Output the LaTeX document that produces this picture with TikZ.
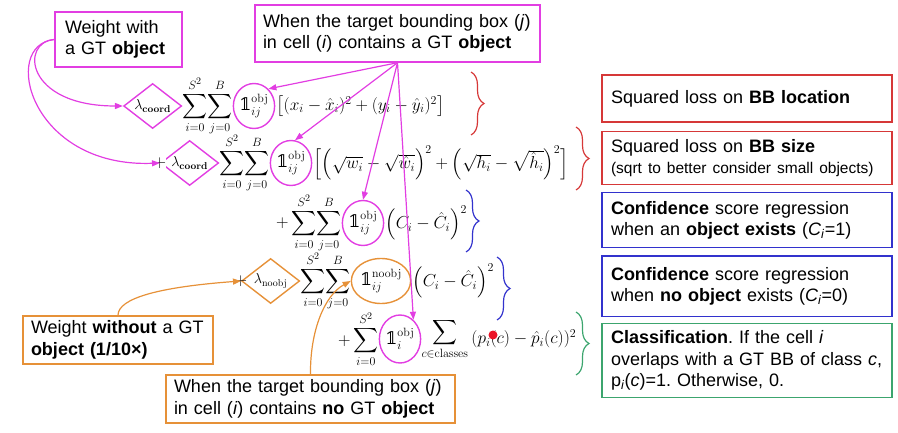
\documentclass[tikz,border=0pt]{standalone}
\usepackage{amsmath, amssymb}
\usepackage[no-math]{fontspec}
\setmainfont{Liberation Sans}
\newfontfamily\dejavu{DejaVu Serif}
\newcommand{\indic}{\text{\dejavu\iffontchar\font"1D7D9 \char"1D7D9\else\fontspec{DejaVu Sans}\iffontchar\font"1D7D9 \char"1D7D9\else\normalfont\bfseries 1\fi\fi}}
\usepackage{tikz}
\usetikzlibrary{arrows.meta, positioning, shapes.geometric, decorations.pathreplacing}
\usepackage{xcolor}
\definecolor{mag}{RGB}{226,62,226}
\definecolor{org}{RGB}{230,145,56}
\definecolor{redb}{RGB}{214,56,56}
\definecolor{blub}{RGB}{50,50,205}
\definecolor{grnb}{RGB}{60,165,110}
\definecolor{dotred}{RGB}{235,20,40}
\frenchspacing

\begin{document}
\begin{tikzpicture}[x=1pt, y=-1pt,
        node distance=0pt,
        note/.style={rectangle, draw, line width=1.4pt, align=left,
                     inner xsep=8pt, inner ysep=3pt,
                     font=\fontsize{18}{21.5}\selectfont},
        rbox/.style={note, text width=272pt, inner xsep=9pt},
        lam/.style={diamond, draw, line width=1.4pt, aspect=1.4, inner sep=0pt,
                    minimum width=58pt, minimum height=45pt, font=\Large},
        ind/.style={ellipse, draw, line width=1.4pt, inner sep=0pt,
                    minimum width=38pt, minimum height=45pt, font=\LARGE},
        eq/.style={inner sep=0pt, font=\LARGE},
        arr/.style={-{Triangle[length=8pt, width=6pt]}, line width=1.2pt},
        br/.style={decorate, decoration={brace, amplitude=13pt}, line width=1.2pt}
    ]
        \useasboundingbox (0,0) rectangle (898,433);
        % notes
        \node[note, draw=mag, text width=107pt, inner xsep=10pt, minimum height=55pt] (wbox) at (118.5,39.5)
            {Weight with\\a GT \textbf{object}};
        \node[note, draw=mag, text width=269pt, minimum height=57pt] (tbox) at (397.5,33.5)
            {When the target bounding box (\textit{j})\\in cell (\textit{i}) contains a GT \textbf{object}};
        \node[note, draw=org, text width=174pt, minimum height=48pt] (obox1) at (118,340)
            {Weight \textbf{without} a GT\\\textbf{object (1/10×)}};
        \node[note, draw=org, text width=273pt, minimum height=48pt] (obox2) at (310.5,399)
            {When the target bounding box (\textit{j})\\in cell (\textit{i}) contains \textbf{no} GT \textbf{object}};
        % loss terms
        \node[ind, draw=mag] (ind1) at (254,106) {$\indic^{\mathrm{obj}}_{ij}$};
        \node[eq, left=0pt of ind1] (sum1) {$\displaystyle\sum_{i=0}^{S^2}\!\sum_{j=0}^{B}$};
        \node[lam, draw=mag, left=0pt of sum1] (lam1) {$\lambda_{\mathbf{coord}}$};
        \node[eq, right=1pt of ind1] (loss1) {$\big[(x_i-\hat{x}_i)^2+(y_i-\hat{y}_i)^2\big]$};

        \node[ind, draw=mag] (ind2) at (291,163) {$\indic^{\mathrm{obj}}_{ij}$};
        \node[eq, left=0pt of ind2] (sum2) {$\displaystyle\sum_{i=0}^{S^2}\!\sum_{j=0}^{B}$};
        \node[lam, draw=mag, left=0pt of sum2] (lam2) {$\lambda_{\mathbf{coord}}$};
        \node[eq, fill=white, anchor=center] (plus2) at (lam2.west) {$+$};
        \node[eq, right=1pt of ind2] (loss2)
            {$\Big[\Big(\sqrt{w_i}-\sqrt{\hat{w}_i}\Big)^2+\Big(\sqrt{h_i}-\sqrt{\hat{h}_i}\Big)^2\Big]$};

        \node[ind, draw=mag] (ind3) at (363,223) {$\indic^{\mathrm{obj}}_{ij}$};
        \node[eq, left=0pt of ind3] (sum3) {$+\displaystyle\sum_{i=0}^{S^2}\!\sum_{j=0}^{B}$};
        \node[eq, right=1pt of ind3] (loss3) {$\Big(C_i-\hat{C}_i\Big)^2$};

        \node[ind, draw=org, minimum width=42pt] (ind4) at (381,281) {$\indic^{\mathrm{noobj}}_{ij}$};
        \node[eq, left=0pt of ind4] (sum4) {$\displaystyle\sum_{i=0}^{S^2}\!\sum_{j=0}^{B}$};
        \node[lam, draw=org, left=0pt of sum4] (lam4) {$\lambda_{\mathrm{noobj}}$};
        \node[eq, anchor=center] (plus4) at (lam4.west) {$+$};
        \node[eq, right=1pt of ind4] (loss4) {$\Big(C_i-\hat{C}_i\Big)^2$};

        \node[ind, draw=mag, minimum height=48pt] (ind5) at (400,339) {$\indic^{\mathrm{obj}}_{i}$};
        \node[eq, left=0pt of ind5] (sum5) {$+\displaystyle\sum_{i=0}^{S^2}$};
        \node[eq, right=0pt of ind5] (cls5) {$\displaystyle\sum_{c\in\mathrm{classes}}$};
        \node[eq, right=3pt of cls5] (loss5) {$(p_i(c)-\hat{p}_i(c))^2$};
        \node[circle, fill=dotred, inner sep=0pt, minimum size=9pt] (dot) at (493,335) {};
        % meaning of each term
        \node[rbox, draw=redb, minimum height=47pt] (r1) at (747,98.5)
            {Squared loss on \textbf{BB location}};
        \node[rbox, draw=redb, minimum height=53pt, below=8pt of r1] (r2)
            {Squared loss on \textbf{BB size}\\{\fontsize{15.5}{18}\selectfont (sqrt to better consider small objects)}};
        \node[rbox, draw=blub, minimum height=55pt, below=7pt of r2] (r3)
            {\textbf{Confidence} score regression\\when an \textbf{object exists} (\textit{C}\textsubscript{\textit{i}}=1)};
        \node[rbox, draw=blub, minimum height=60pt, below=7pt of r3] (r4)
            {\textbf{Confidence} score regression\\when \textbf{no object} exists (\textit{C}\textsubscript{\textit{i}}=0)};
        \node[rbox, draw=grnb, minimum height=74pt, below=6pt of r4] (r5)
            {\textbf{Classification}. If the cell \textit{i}\\overlaps with a GT BB of class \textit{c},\\p\textsubscript{\textit{i}}(\textit{c})=1. Otherwise, 0.};
        % braces
        \draw[br, redb] (471,72) -- (471,135);
        \draw[br, redb] (576,127) -- (576,190);
        \draw[br, blub] (466,190) -- (466,252);
        \draw[br, blub] (497,257) -- (497,320);
        \draw[br, grnb] (576,312) -- (576,375);
        % arrows
        \draw[arr, mag] (wbox.west) .. controls (20,42) and (25,106) .. (lam1.west);
        \draw[arr, mag] (wbox.west) .. controls (0,45) and (30,168) .. (lam2.west);
        \draw[arr, mag] (tbox.south) -- (ind1.50);
        \draw[arr, mag] (tbox.south) -- (ind2.80);
        \draw[arr, mag] (tbox.south) -- (ind3.north);
        \draw[arr, mag] (tbox.south) -- (ind5.55);
        \draw[arr, org] (obox1.north) .. controls (118,298) and (160,287) .. (lam4.west);
        \draw[arr, org] (obox2.north) .. controls (310,330) and (325,295) .. (ind4.west);
    \end{tikzpicture}
\end{document}
